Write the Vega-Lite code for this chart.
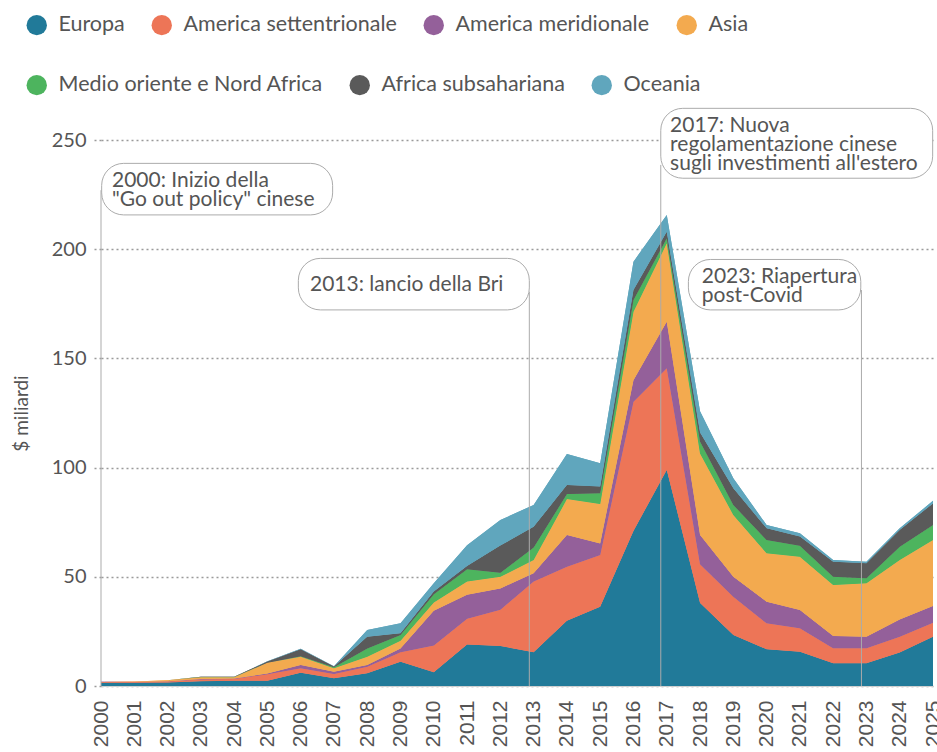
{
  "$schema": "https://vega.github.io/schema/vega-lite/v6.json",
  "width": 832,
  "height": 546,
  "autosize": {"type": "none"},
  "padding": {"left": 101, "top": 140, "right": 4, "bottom": 66},
  "background": "white",
  "config": {
    "view": {"stroke": null},
    "font": "Lato",
    "legend": {"labelFont": "Lato", "labelFontSize": 21.5, "labelColor": "#555555", "labelLimit": 500, "symbolType": "circle", "symbolSize": 415, "symbolOpacity": 1, "symbolStrokeWidth": 0, "labelOffset": 11, "columnPadding": 26, "padding": 0, "titlePadding": 0},
    "axisY": {"grid": true, "gridDash": [2, 3], "gridColor": "#9a9a9a", "gridWidth": 1.5, "domain": false, "tickDash": [2, 3], "tickColor": "#9a9a9a", "tickSize": 9, "tickWidth": 1.5, "labelFont": "Lato", "labelFontSize": 20, "labelColor": "#555555", "labelPadding": 6, "titleFont": "Lato", "titleFontSize": 19, "titleFontWeight": "normal", "titleColor": "#555555", "titlePadding": 20}
  },
  "datasets": {
    "regions": [
      {"region": "Europa", "rank": 1},
      {"region": "America settentrionale", "rank": 2},
      {"region": "America meridionale", "rank": 3},
      {"region": "Asia", "rank": 4},
      {"region": "Medio oriente e Nord Africa", "rank": 5},
      {"region": "Africa subsahariana", "rank": 6},
      {"region": "Oceania", "rank": 7}
    ],
    "flows": [
      {"year": 2000, "region": "Europa", "value": 1.5}, {"year": 2000, "region": "America settentrionale", "value": 0.3}, {"year": 2000, "region": "America meridionale", "value": 0.1}, {"year": 2000, "region": "Asia", "value": 0.1}, {"year": 2000, "region": "Medio oriente e Nord Africa", "value": 0}, {"year": 2000, "region": "Africa subsahariana", "value": 0}, {"year": 2000, "region": "Oceania", "value": 0},
      {"year": 2001, "region": "Europa", "value": 1.5}, {"year": 2001, "region": "America settentrionale", "value": 0.4}, {"year": 2001, "region": "America meridionale", "value": 0.1}, {"year": 2001, "region": "Asia", "value": 0.1}, {"year": 2001, "region": "Medio oriente e Nord Africa", "value": 0}, {"year": 2001, "region": "Africa subsahariana", "value": 0}, {"year": 2001, "region": "Oceania", "value": 0},
      {"year": 2002, "region": "Europa", "value": 1.6}, {"year": 2002, "region": "America settentrionale", "value": 0.5}, {"year": 2002, "region": "America meridionale", "value": 0.1}, {"year": 2002, "region": "Asia", "value": 0.4}, {"year": 2002, "region": "Medio oriente e Nord Africa", "value": 0}, {"year": 2002, "region": "Africa subsahariana", "value": 0}, {"year": 2002, "region": "Oceania", "value": 0},
      {"year": 2003, "region": "Europa", "value": 2.2}, {"year": 2003, "region": "America settentrionale", "value": 0.8}, {"year": 2003, "region": "America meridionale", "value": 0.2}, {"year": 2003, "region": "Asia", "value": 0.8}, {"year": 2003, "region": "Medio oriente e Nord Africa", "value": 0.1}, {"year": 2003, "region": "Africa subsahariana", "value": 0.1}, {"year": 2003, "region": "Oceania", "value": 0},
      {"year": 2004, "region": "Europa", "value": 2.4}, {"year": 2004, "region": "America settentrionale", "value": 0.8}, {"year": 2004, "region": "America meridionale", "value": 0.2}, {"year": 2004, "region": "Asia", "value": 0.6}, {"year": 2004, "region": "Medio oriente e Nord Africa", "value": 0.1}, {"year": 2004, "region": "Africa subsahariana", "value": 0.1}, {"year": 2004, "region": "Oceania", "value": 0},
      {"year": 2005, "region": "Europa", "value": 2.4}, {"year": 2005, "region": "America settentrionale", "value": 3.0}, {"year": 2005, "region": "America meridionale", "value": 0.3}, {"year": 2005, "region": "Asia", "value": 4.9}, {"year": 2005, "region": "Medio oriente e Nord Africa", "value": 0.1}, {"year": 2005, "region": "Africa subsahariana", "value": 0.5}, {"year": 2005, "region": "Oceania", "value": 0.1},
      {"year": 2006, "region": "Europa", "value": 6.1}, {"year": 2006, "region": "America settentrionale", "value": 2.0}, {"year": 2006, "region": "America meridionale", "value": 1.5}, {"year": 2006, "region": "Asia", "value": 3.8}, {"year": 2006, "region": "Medio oriente e Nord Africa", "value": 0.2}, {"year": 2006, "region": "Africa subsahariana", "value": 3.2}, {"year": 2006, "region": "Oceania", "value": 0.2},
      {"year": 2007, "region": "Europa", "value": 3.5}, {"year": 2007, "region": "America settentrionale", "value": 2.0}, {"year": 2007, "region": "America meridionale", "value": 1.0}, {"year": 2007, "region": "Asia", "value": 1.6}, {"year": 2007, "region": "Medio oriente e Nord Africa", "value": 0.5}, {"year": 2007, "region": "Africa subsahariana", "value": 0.3}, {"year": 2007, "region": "Oceania", "value": 0.2},
      {"year": 2008, "region": "Europa", "value": 5.8}, {"year": 2008, "region": "America settentrionale", "value": 3.0}, {"year": 2008, "region": "America meridionale", "value": 0.8}, {"year": 2008, "region": "Asia", "value": 3.8}, {"year": 2008, "region": "Medio oriente e Nord Africa", "value": 3.8}, {"year": 2008, "region": "Africa subsahariana", "value": 5.4}, {"year": 2008, "region": "Oceania", "value": 3.0},
      {"year": 2009, "region": "Europa", "value": 11.1}, {"year": 2009, "region": "America settentrionale", "value": 4.3}, {"year": 2009, "region": "America meridionale", "value": 1.8}, {"year": 2009, "region": "Asia", "value": 3.5}, {"year": 2009, "region": "Medio oriente e Nord Africa", "value": 2.7}, {"year": 2009, "region": "Africa subsahariana", "value": 0.7}, {"year": 2009, "region": "Oceania", "value": 4.6},
      {"year": 2010, "region": "Europa", "value": 6.3}, {"year": 2010, "region": "America settentrionale", "value": 12.3}, {"year": 2010, "region": "America meridionale", "value": 15.8}, {"year": 2010, "region": "Asia", "value": 3.8}, {"year": 2010, "region": "Medio oriente e Nord Africa", "value": 3.8}, {"year": 2010, "region": "Africa subsahariana", "value": 1.3}, {"year": 2010, "region": "Oceania", "value": 3.7},
      {"year": 2011, "region": "Europa", "value": 19.0}, {"year": 2011, "region": "America settentrionale", "value": 11.8}, {"year": 2011, "region": "America meridionale", "value": 11.0}, {"year": 2011, "region": "Asia", "value": 6.1}, {"year": 2011, "region": "Medio oriente e Nord Africa", "value": 5.5}, {"year": 2011, "region": "Africa subsahariana", "value": 1.5}, {"year": 2011, "region": "Oceania", "value": 9.5},
      {"year": 2012, "region": "Europa", "value": 18.3}, {"year": 2012, "region": "America settentrionale", "value": 16.6}, {"year": 2012, "region": "America meridionale", "value": 9.8}, {"year": 2012, "region": "Asia", "value": 5.3}, {"year": 2012, "region": "Medio oriente e Nord Africa", "value": 1.8}, {"year": 2012, "region": "Africa subsahariana", "value": 12.5}, {"year": 2012, "region": "Oceania", "value": 11.7},
      {"year": 2013, "region": "Europa", "value": 15.5}, {"year": 2013, "region": "America settentrionale", "value": 32.3}, {"year": 2013, "region": "America meridionale", "value": 3.8}, {"year": 2013, "region": "Asia", "value": 6.1}, {"year": 2013, "region": "Medio oriente e Nord Africa", "value": 5.7}, {"year": 2013, "region": "Africa subsahariana", "value": 9.5}, {"year": 2013, "region": "Oceania", "value": 10.0},
      {"year": 2014, "region": "Europa", "value": 29.9}, {"year": 2014, "region": "America settentrionale", "value": 24.7}, {"year": 2014, "region": "America meridionale", "value": 14.5}, {"year": 2014, "region": "Asia", "value": 16.5}, {"year": 2014, "region": "Medio oriente e Nord Africa", "value": 2.3}, {"year": 2014, "region": "Africa subsahariana", "value": 4.1}, {"year": 2014, "region": "Oceania", "value": 14.2},
      {"year": 2015, "region": "Europa", "value": 36.3}, {"year": 2015, "region": "America settentrionale", "value": 23.7}, {"year": 2015, "region": "America meridionale", "value": 5.3}, {"year": 2015, "region": "Asia", "value": 18.0}, {"year": 2015, "region": "Medio oriente e Nord Africa", "value": 4.9}, {"year": 2015, "region": "Africa subsahariana", "value": 3.1}, {"year": 2015, "region": "Oceania", "value": 10.7},
      {"year": 2016, "region": "Europa", "value": 71.0}, {"year": 2016, "region": "America settentrionale", "value": 59.2}, {"year": 2016, "region": "America meridionale", "value": 9.8}, {"year": 2016, "region": "Asia", "value": 31.4}, {"year": 2016, "region": "Medio oriente e Nord Africa", "value": 5.3}, {"year": 2016, "region": "Africa subsahariana", "value": 4.6}, {"year": 2016, "region": "Oceania", "value": 13.0},
      {"year": 2017, "region": "Europa", "value": 98.9}, {"year": 2017, "region": "America settentrionale", "value": 46.6}, {"year": 2017, "region": "America meridionale", "value": 21.3}, {"year": 2017, "region": "Asia", "value": 35.9}, {"year": 2017, "region": "Medio oriente e Nord Africa", "value": 2.3}, {"year": 2017, "region": "Africa subsahariana", "value": 3.0}, {"year": 2017, "region": "Oceania", "value": 7.7},
      {"year": 2018, "region": "Europa", "value": 38.0}, {"year": 2018, "region": "America settentrionale", "value": 17.7}, {"year": 2018, "region": "America meridionale", "value": 13.4}, {"year": 2018, "region": "Asia", "value": 37.4}, {"year": 2018, "region": "Medio oriente e Nord Africa", "value": 5.4}, {"year": 2018, "region": "Africa subsahariana", "value": 4.2}, {"year": 2018, "region": "Oceania", "value": 9.7},
      {"year": 2019, "region": "Europa", "value": 23.4}, {"year": 2019, "region": "America settentrionale", "value": 17.5}, {"year": 2019, "region": "America meridionale", "value": 9.1}, {"year": 2019, "region": "Asia", "value": 28.3}, {"year": 2019, "region": "Medio oriente e Nord Africa", "value": 4.6}, {"year": 2019, "region": "Africa subsahariana", "value": 7.6}, {"year": 2019, "region": "Oceania", "value": 4.6},
      {"year": 2020, "region": "Europa", "value": 16.8}, {"year": 2020, "region": "America settentrionale", "value": 11.9}, {"year": 2020, "region": "America meridionale", "value": 9.9}, {"year": 2020, "region": "Asia", "value": 22.2}, {"year": 2020, "region": "Medio oriente e Nord Africa", "value": 6.0}, {"year": 2020, "region": "Africa subsahariana", "value": 5.4}, {"year": 2020, "region": "Oceania", "value": 1.5},
      {"year": 2021, "region": "Europa", "value": 15.7}, {"year": 2021, "region": "America settentrionale", "value": 10.7}, {"year": 2021, "region": "America meridionale", "value": 8.4}, {"year": 2021, "region": "Asia", "value": 24.4}, {"year": 2021, "region": "Medio oriente e Nord Africa", "value": 5.0}, {"year": 2021, "region": "Africa subsahariana", "value": 4.2}, {"year": 2021, "region": "Oceania", "value": 1.5},
      {"year": 2022, "region": "Europa", "value": 10.4}, {"year": 2022, "region": "America settentrionale", "value": 6.9}, {"year": 2022, "region": "America meridionale", "value": 5.6}, {"year": 2022, "region": "Asia", "value": 23.3}, {"year": 2022, "region": "Medio oriente e Nord Africa", "value": 3.8}, {"year": 2022, "region": "Africa subsahariana", "value": 6.9}, {"year": 2022, "region": "Oceania", "value": 0.8},
      {"year": 2023, "region": "Europa", "value": 10.4}, {"year": 2023, "region": "America settentrionale", "value": 6.9}, {"year": 2023, "region": "America meridionale", "value": 5.3}, {"year": 2023, "region": "Asia", "value": 24.4}, {"year": 2023, "region": "Medio oriente e Nord Africa", "value": 2.3}, {"year": 2023, "region": "Africa subsahariana", "value": 6.9}, {"year": 2023, "region": "Oceania", "value": 0.7},
      {"year": 2024, "region": "Europa", "value": 15.3}, {"year": 2024, "region": "America settentrionale", "value": 7.3}, {"year": 2024, "region": "America meridionale", "value": 7.9}, {"year": 2024, "region": "Asia", "value": 27.2}, {"year": 2024, "region": "Medio oriente e Nord Africa", "value": 6.1}, {"year": 2024, "region": "Africa subsahariana", "value": 7.6}, {"year": 2024, "region": "Oceania", "value": 0.8},
      {"year": 2025, "region": "Europa", "value": 22.6}, {"year": 2025, "region": "America settentrionale", "value": 6.4}, {"year": 2025, "region": "America meridionale", "value": 7.6}, {"year": 2025, "region": "Asia", "value": 30.2}, {"year": 2025, "region": "Medio oriente e Nord Africa", "value": 6.9}, {"year": 2025, "region": "Africa subsahariana", "value": 9.9}, {"year": 2025, "region": "Oceania", "value": 1.2}
    ],
    "rules": [
      {"year": 2000, "top": 227},
      {"year": 2012.87, "top": 180.5},
      {"year": 2016.82, "top": 238.6},
      {"year": 2022.85, "top": 181.3}
    ],
    "boxes": [
      {"x1": 2000.02, "x2": 2006.96, "y1": 239.3, "y2": 215.7},
      {"x1": 2005.93, "x2": 2012.87, "y1": 195.8, "y2": 172.2},
      {"x1": 2016.82, "x2": 2024.99, "y1": 264.5, "y2": 232.5},
      {"x1": 2017.65, "x2": 2022.83, "y1": 195.3, "y2": 172.2}
    ],
    "notes": [
      {"year": 2000.33, "val": 228.5, "label": "2000: Inizio della\n\"Go out policy\" cinese"},
      {"year": 2006.28, "val": 180.9, "label": "2013: lancio della Bri"},
      {"year": 2017.1, "val": 253.8, "label": "2017: Nuova\nregolamentazione cinese\nsugli investimenti all'estero"},
      {"year": 2018.05, "val": 184.7, "label": "2023: Riapertura\npost-Covid"}
    ]
  },
  "resolve": {"legend": {"color": "independent"}},
  "layer": [
    {
      "data": {"name": "flows"},
      "transform": [{"lookup": "region", "from": {"data": {"name": "regions"}, "key": "region", "fields": ["rank"]}}],
      "mark": {"type": "area", "line": false},
      "encoding": {
        "x": {"field": "year", "type": "quantitative", "scale": {"domain": [2000, 2025], "nice": false, "zero": false}, "title": null,
          "axis": {"values": [2000,2001,2002,2003,2004,2005,2006,2007,2008,2009,2010,2011,2012,2013,2014,2015,2016,2017,2018,2019,2020,2021,2022,2023,2024,2025], "tickCount": 26, "format": "d", "labelAngle": -90, "labelAlign": "right", "labelBaseline": "middle", "labelFont": "Liberation Sans", "labelFontSize": 21, "labelColor": "#555555", "labelPadding": 14, "ticks": false, "domain": true, "domainColor": "#cfcfcf", "grid": false, "labelOverlap": false, "labelSeparation": 0, "labelFlush": false, "labelBound": false}},
        "y": {"field": "value", "type": "quantitative", "stack": "zero", "scale": {"domain": [0, 250], "nice": false},
          "title": "$ miliardi", "axis": {"values": [0, 50, 100, 150, 200, 250]}},
        "order": {"field": "rank", "type": "quantitative", "sort": "ascending"},
        "color": {"field": "region", "type": "nominal",
          "scale": {"domain": ["Europa", "America settentrionale", "America meridionale", "Asia", "Medio oriente e Nord Africa", "Africa subsahariana", "Oceania"], "range": ["#217a99", "#ed7557", "#94609a", "#f3aa4f", "#4db45e", "#5a5a5a", "#60a6bd"]},
          "legend": {"values": ["Europa", "America settentrionale", "America meridionale", "Asia"], "title": null, "orient": "none", "legendX": -75, "legendY": -126, "direction": "horizontal"}}
      }
    },
    {
      "data": {"name": "flows"},
      "transform": [{"lookup": "region", "from": {"data": {"name": "regions"}, "key": "region", "fields": ["rank"]}}],
      "mark": {"type": "area", "line": false},
      "encoding": {
        "x": {"field": "year", "type": "quantitative", "scale": {"domain": [2000, 2025], "nice": false, "zero": false}, "title": null},
        "y": {"field": "value", "type": "quantitative", "stack": "zero", "scale": {"domain": [0, 250], "nice": false}, "title": "$ miliardi"},
        "order": {"field": "rank", "type": "quantitative", "sort": "ascending"},
        "color": {"field": "region", "type": "nominal",
          "scale": {"domain": ["Europa", "America settentrionale", "America meridionale", "Asia", "Medio oriente e Nord Africa", "Africa subsahariana", "Oceania"], "range": ["#217a99", "#ed7557", "#94609a", "#f3aa4f", "#4db45e", "#5a5a5a", "#60a6bd"]},
          "legend": {"values": ["Medio oriente e Nord Africa", "Africa subsahariana", "Oceania"], "title": null, "orient": "none", "legendX": -75, "legendY": -66, "direction": "horizontal"}}
      }
    },
    {
      "data": {"name": "rules"},
      "mark": {"type": "rule", "color": "#ababab", "strokeWidth": 1},
      "encoding": {
        "x": {"field": "year", "type": "quantitative", "scale": {"domain": [2000, 2025], "nice": false, "zero": false}, "title": null},
        "y": {"field": "top", "type": "quantitative", "scale": {"domain": [0, 250], "nice": false}, "title": "$ miliardi"},
        "y2": {"datum": 0}
      }
    },
    {
      "data": {"name": "boxes"},
      "mark": {"type": "rect", "fill": "white", "stroke": "#ababab", "strokeWidth": 1, "cornerRadius": 22},
      "encoding": {
        "x": {"field": "x1", "type": "quantitative", "scale": {"domain": [2000, 2025], "nice": false, "zero": false}, "title": null},
        "x2": {"field": "x2"},
        "y": {"field": "y1", "type": "quantitative", "scale": {"domain": [0, 250], "nice": false}, "title": "$ miliardi"},
        "y2": {"field": "y2"}
      }
    },
    {
      "data": {"name": "notes"},
      "mark": {"type": "text", "align": "left", "baseline": "alphabetic", "lineBreak": "\n", "lineHeight": 19, "font": "Lato", "fontSize": 21, "color": "#555555"},
      "encoding": {
        "x": {"field": "year", "type": "quantitative", "scale": {"domain": [2000, 2025], "nice": false, "zero": false}, "title": null},
        "y": {"field": "val", "type": "quantitative", "scale": {"domain": [0, 250], "nice": false}, "title": "$ miliardi"},
        "text": {"field": "label"}
      }
    }
  ]
}
